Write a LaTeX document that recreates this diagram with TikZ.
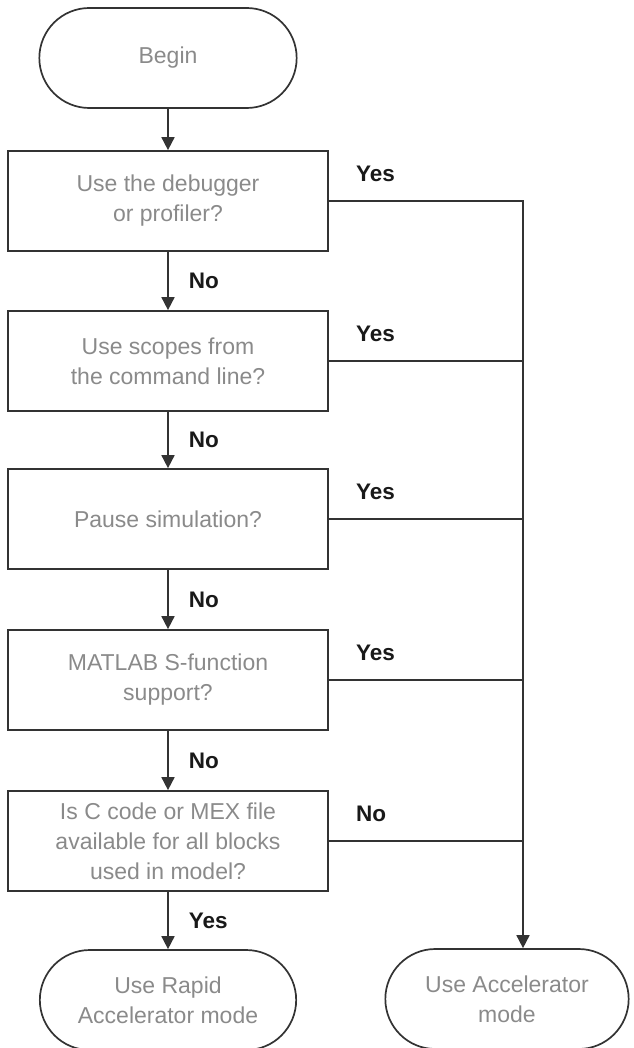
\documentclass[tikz,border=0pt]{standalone}
\usepackage{fontspec}
\setmainfont{Liberation Sans}
\usetikzlibrary{positioning, shapes.misc, arrows.meta}
\definecolor{myline}{HTML}{333333}
\definecolor{mytext}{HTML}{8A8A8A}

\begin{document}
\begin{tikzpicture}[
    x=1pt, y=-1pt,
    mybox/.style={draw=myline, line width=1.7pt, minimum width=320pt, minimum height=100pt,
        align=center, text=mytext, font=\fontsize{23}{30}\selectfont},
    myterm/.style={rounded rectangle, draw=myline, line width=1.7pt, minimum width=264pt,
        minimum height=100pt, align=center, text=mytext, font=\fontsize{23}{30}\selectfont},
    mylabel/.style={inner sep=0pt, font=\fontsize{22.5}{27}\selectfont\bfseries, text=black!90},
    myarrow/.style={draw=myline, line width=1.7pt, -{Triangle[width=13pt, length=13pt]}}
]
    \useasboundingbox (0,0) rectangle (633,1048);

    % Start and questions
    \node[myterm] (begin) at (168,58) {Begin};
    \node[mybox] (q1) at (168,201) {Use the debugger\\or profiler?};
    \node[mybox] (q2) at (168,361) {Use scopes from\\the command line?};
    \node[mybox] (q3) at (168,519) {Pause simulation?};
    \node[mybox] (q4) at (168,680) {MATLAB S-function\\support?};
    \node[mybox] (q5) at (168,841) {Is C code or MEX file\\available for all blocks\\used in model?};

    % End points
    \node[myterm, minimum width=263pt] (rapid) at (168,1000) {Use Rapid\\Accelerator mode};
    \node[myterm, minimum width=250pt] (accel) at (507,999) {Use Accelerator\\mode};

    % Main path down the left
    \draw[myarrow] (begin) -- (q1);
    \draw[myarrow] (q1) -- node[mylabel, right=20pt] (n1) {No} (q2);
    \draw[myarrow] (q2) -- node[mylabel, right=20pt] (n2) {No} (q3);
    \draw[myarrow] (q3) -- node[mylabel, right=20pt] (n3) {No} (q4);
    \draw[myarrow] (q4) -- node[mylabel, right=20pt] (n4) {No} (q5);
    \draw[myarrow] (q5) -- node[mylabel, right=20pt] (y5) {Yes} (rapid);

    % Side branch on the right
    \coordinate (rail) at (523,201);
    \draw[myarrow] (q1.east) -| (rail |- accel.north);
    \foreach \q in {q2, q3, q4, q5} {
        \draw[draw=myline, line width=1.7pt] (\q.east) -- (\q.east -| rail);
    }
    \node[mylabel, above right=19pt and 27pt of q1.east] (y1) {Yes};
    \node[mylabel, above right=19pt and 27pt of q2.east] (y2) {Yes};
    \node[mylabel, above right=19pt and 27pt of q3.east] (y3) {Yes};
    \node[mylabel, above right=19pt and 27pt of q4.east] (y4) {Yes};
    \node[mylabel, above right=19pt and 27pt of q5.east] (n5) {No};
\end{tikzpicture}
\end{document}
